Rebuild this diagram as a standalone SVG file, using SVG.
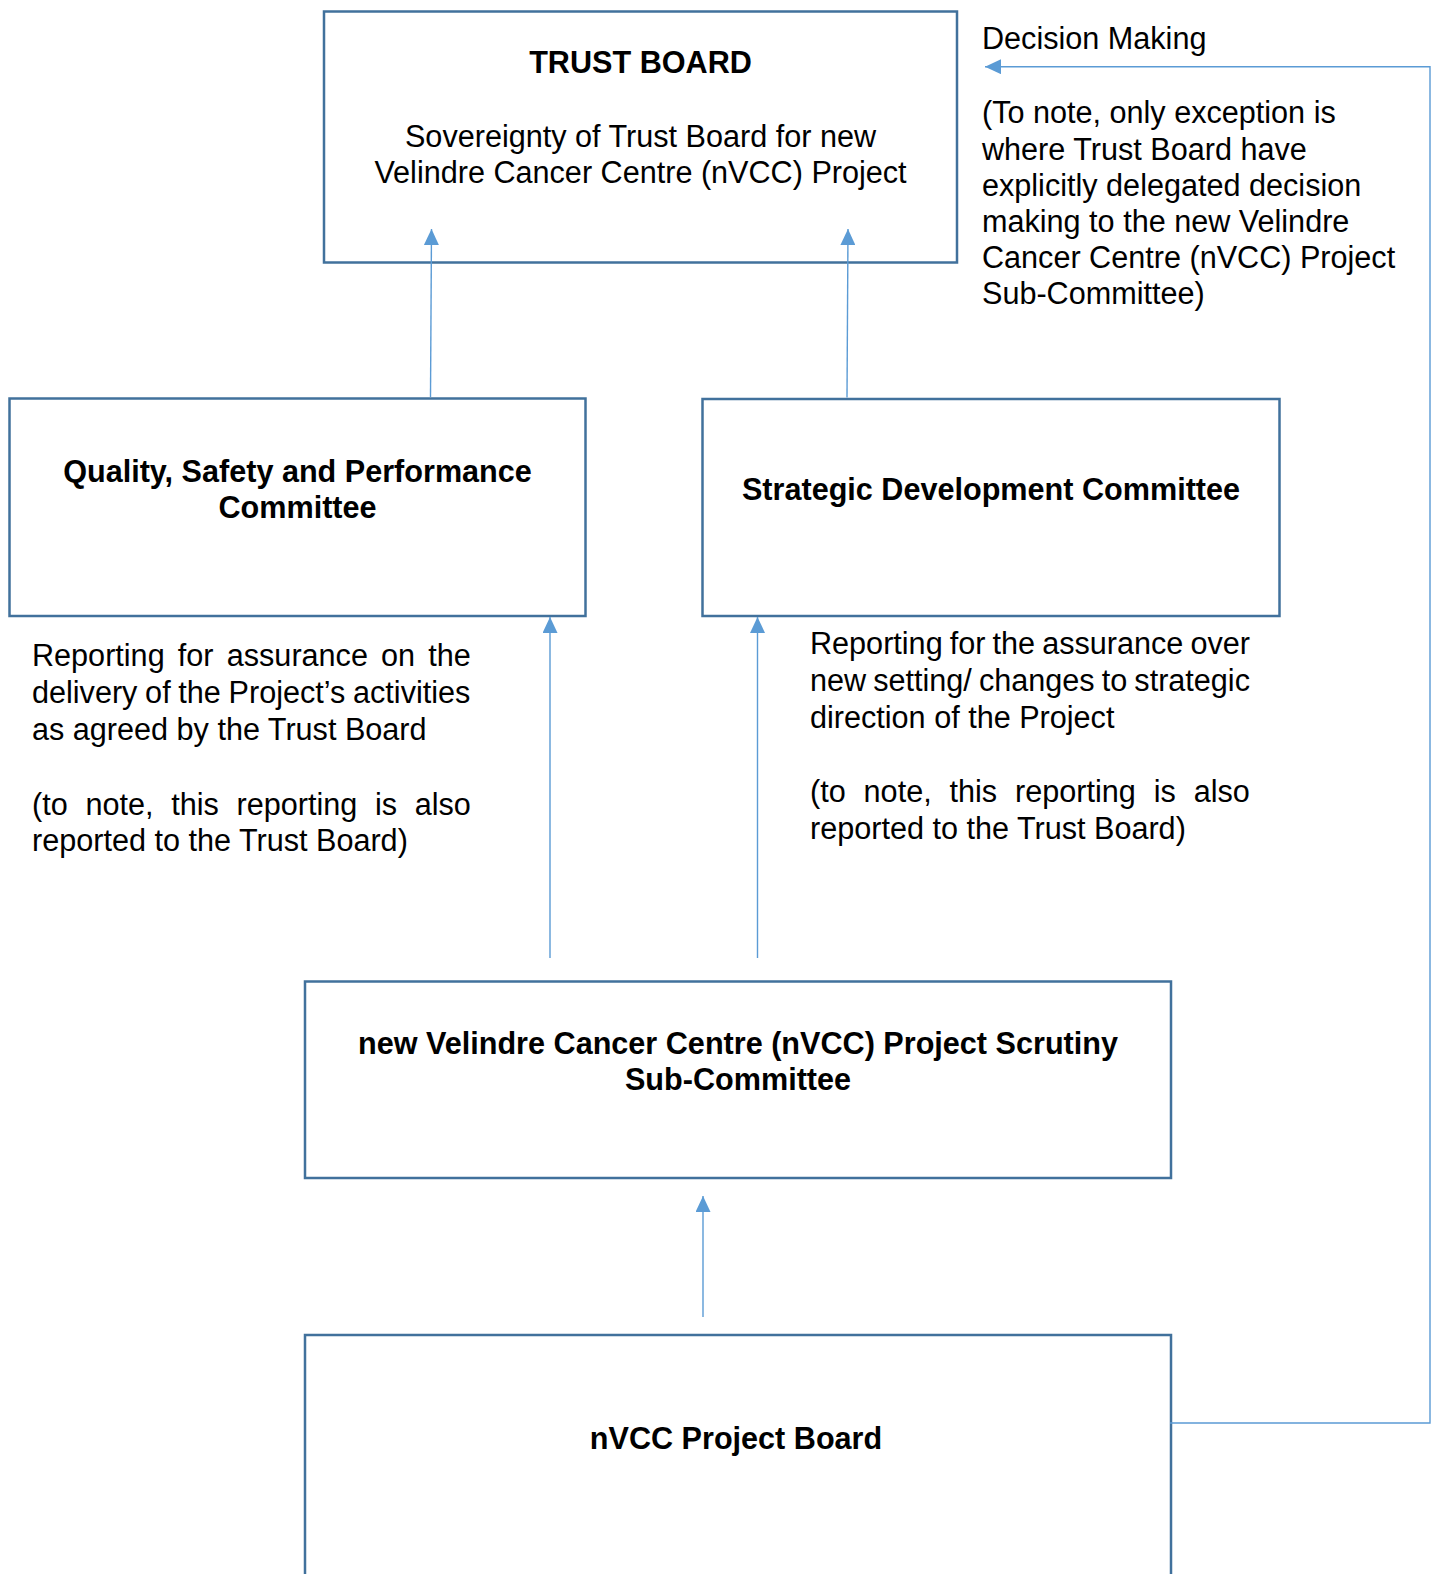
<svg xmlns="http://www.w3.org/2000/svg" width="1436" height="1574" viewBox="0 0 1436 1574">
<style>
  .box { fill: #ffffff; stroke: #41719C; stroke-width: 2.5; }
  .conn { fill: none; stroke: #5B9BD5; stroke-width: 1.4; }
  text { font-family: "Liberation Sans", Arial, sans-serif; font-size: 30.6px; fill: #000000; }
  .b { font-weight: bold; }
  .c { text-anchor: middle; }
</style>
<defs>
  <marker id="arr" markerUnits="userSpaceOnUse" markerWidth="16" markerHeight="15" refX="16" refY="7.5" orient="auto">
    <path d="M0,0 L16,7.5 L0,15 Z" fill="#5B9BD5"/>
  </marker>
</defs>
<rect width="1436" height="1574" fill="#ffffff"/>

<g id="trust-board">
  <rect class="box" x="324" y="11.5" width="633" height="251"/>
  <text class="b c" x="640.5" y="73.3">TRUST BOARD</text>
  <text class="c" x="640.5" y="147.3">Sovereignty of Trust Board for new</text>
  <text class="c" x="640.5" y="183.3">Velindre Cancer Centre (nVCC) Project</text>
</g>

<g id="decision-note">
  <text x="982" y="49.3">Decision Making</text>
  <text x="982" y="123.3">(To note, only exception is</text>
  <text x="982" y="159.5">where Trust Board have</text>
  <text x="982" y="195.5">explicitly delegated decision</text>
  <text x="982" y="231.7">making to the new Velindre</text>
  <text x="982" y="267.8">Cancer Centre (nVCC) Project</text>
  <text x="982" y="304">Sub-Committee)</text>
</g>

<g id="qsp-committee">
  <rect class="box" x="9.5" y="398.5" width="576" height="217.5"/>
  <text class="b c" x="297.5" y="481.7">Quality, Safety and Performance</text>
  <text class="b c" x="297.5" y="517.5">Committee</text>
</g>

<g id="qsp-note">
  <text x="32" y="666" style="word-spacing:4.7px">Reporting for assurance on the</text>
  <text x="32" y="702.8" style="word-spacing:-0.8px">delivery of the Project’s activities</text>
  <text x="32" y="739.6">as agreed by the Trust Board</text>
  <text x="32" y="814.5" style="word-spacing:9.2px">(to note, this reporting is also</text>
  <text x="32" y="851.3">reported to the Trust Board)</text>
</g>

<g id="sdc-committee">
  <rect class="box" x="702.5" y="399" width="577" height="217"/>
  <text class="b c" x="991" y="499.5">Strategic Development Committee</text>
</g>

<g id="sdc-note">
  <text x="810" y="654" style="word-spacing:-1.4px">Reporting for the assurance over</text>
  <text x="810" y="690.8" style="word-spacing:-1.4px">new setting/ changes to strategic</text>
  <text x="810" y="727.6">direction of the Project</text>
  <text x="810" y="802.3" style="word-spacing:9.4px">(to note, this reporting is also</text>
  <text x="810" y="838.7">reported to the Trust Board)</text>
</g>

<g id="scrutiny-subcommittee">
  <rect class="box" x="305" y="981.5" width="866" height="196.5"/>
  <text class="b c" x="738" y="1053.5">new Velindre Cancer Centre (nVCC) Project Scrutiny</text>
  <text class="b c" x="738" y="1090">Sub-Committee</text>
</g>

<g id="project-board">
  <rect class="box" x="305" y="1335" width="866" height="260"/>
  <text class="b c" x="736" y="1449">nVCC Project Board</text>
</g>

<g id="connectors">
  <line class="conn" x1="430.5" y1="397" x2="431.5" y2="229" marker-end="url(#arr)"/>
  <line class="conn" x1="847" y1="397.5" x2="848" y2="229" marker-end="url(#arr)"/>
  <line class="conn" x1="550" y1="958" x2="550" y2="617" marker-end="url(#arr)"/>
  <line class="conn" x1="757.5" y1="958" x2="757.5" y2="617" marker-end="url(#arr)"/>
  <line class="conn" x1="703" y1="1317" x2="703" y2="1196" marker-end="url(#arr)"/>
  <polyline class="conn" points="1170,1423 1430,1423 1430,66.7 985,66.7" marker-end="url(#arr)"/>
</g>
</svg>
